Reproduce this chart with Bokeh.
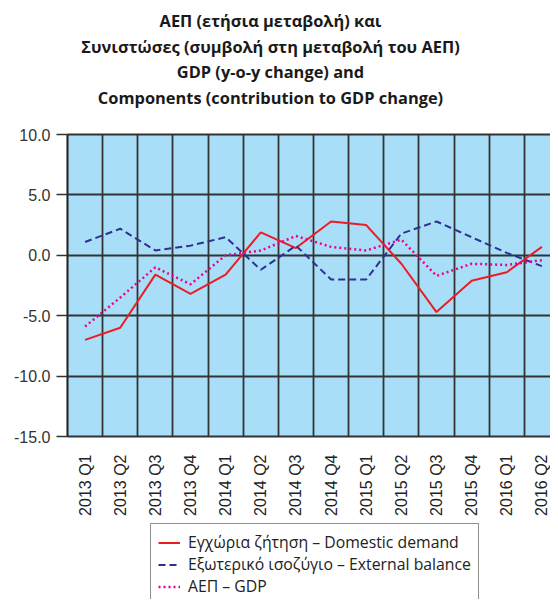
import numpy as np
from bokeh.plotting import figure
from bokeh.models import (Range1d, FixedTicker, NumeralTickFormatter, Legend,
                          LegendItem, Label, BoxAnnotation)
from bokeh.embed import file_html
from bokeh.resources import INLINE

# ---- data ----
quarters = ["2013 Q1", "2013 Q2", "2013 Q3", "2013 Q4",
            "2014 Q1", "2014 Q2", "2014 Q3", "2014 Q4",
            "2015 Q1", "2015 Q2", "2015 Q3", "2015 Q4",
            "2016 Q1", "2016 Q2"]
domestic = [-7.0, -6.0, -1.6, -3.2, -1.6, 1.9, 0.6, 2.8, 2.5, -0.7, -4.7, -2.1, -1.4, 0.7]
external = [1.1, 2.2, 0.4, 0.8, 1.5, -1.2, 0.8, -2.0, -2.0, 1.8, 2.8, 1.5, 0.2, -0.9]
gdp = [-5.9, -3.5, -1.0, -2.4, 0.0, 0.4, 1.6, 0.7, 0.4, 1.3, -1.7, -0.7, -0.8, -0.4]
y_ticks = [-15, -10, -5, 0, 5, 10]
series_labels = ["Εγχώρια ζήτηση – Domestic demand",
                 "Εξωτερικό ισοζύγιο – External balance",
                 "ΑΕΠ – GDP"]
title_lines = ["ΑΕΠ (ετήσια μεταβολή) και",
               "Συνιστώσες (συμβολή στη μεταβολή του ΑΕΠ)",
               "GDP (y-o-y change) and",
               "Components (contribution to GDP change)"]

n = len(quarters)
xc = np.arange(n) + 0.5
ymin, ymax = min(y_ticks), max(y_ticks)

# ---- layout (pixels) ----
W, H = 550, 599
PL, PR = 67.0, 559.0      # plot area left/right
PT, PB = 134.0, 436.0     # plot area top/bottom
sx = (PR - PL) / n
sy = (PB - PT) / (ymax - ymin)
x0 = -PL / sx
x1 = x0 + W / sx
y1 = ymax + PT / sy
y0 = y1 - H / sy

p = figure(width=W, height=H, output_backend="svg", toolbar_location=None,
           x_range=Range1d(x0, x1), y_range=Range1d(y0, y1),
           min_border=0, min_border_left=0, min_border_right=0,
           min_border_top=0, min_border_bottom=0)
p.background_fill_color = "white"
p.border_fill_color = "white"
p.outline_line_color = None

plot_bg = BoxAnnotation(left=0, right=n, bottom=ymin, top=ymax,
                        fill_color="#a9def8", fill_alpha=1, line_color=None,
                        level="image")
p.add_layout(plot_bg)

# grid
p.xgrid.ticker = FixedTicker(ticks=list(range(n + 1)))
p.xgrid.cross_bounds = (ymin, ymax)
p.ygrid.ticker = FixedTicker(ticks=y_ticks)
p.ygrid.cross_bounds = (0, n)
for g in (p.xgrid, p.ygrid):
    g.grid_line_color = "#333333"
    g.grid_line_width = 1.8

# x axis
xa = p.xaxis[0]
xa.fixed_location = ymin
xa.ticker = FixedTicker(ticks=list(xc))
xa.major_label_overrides = {float(x): q for x, q in zip(xc, quarters)}
xa.major_label_orientation = np.pi / 2
xa.major_tick_line_color = None
xa.minor_tick_line_color = None
xa.axis_line_color = None
xa.major_label_standoff = 12
xa.major_label_text_font = "Liberation Sans"
xa.major_label_text_font_size = "16px"
xa.major_label_text_color = "#222222"

# y axis
ya = p.yaxis[0]
ya.fixed_location = 0
ya.bounds = (ymin, ymax)
ya.ticker = FixedTicker(ticks=y_ticks)
ya.formatter = NumeralTickFormatter(format="0.0")
ya.major_tick_out = 11
ya.major_tick_in = 0
ya.major_tick_line_color = "#333333"
ya.major_tick_line_width = 1.5
ya.minor_tick_line_color = None
ya.axis_line_color = "#222222"
ya.axis_line_width = 1.5
ya.major_label_standoff = 6
ya.major_label_text_font = "Liberation Sans"
ya.major_label_text_font_size = "16px"
ya.major_label_text_color = "#333333"

r1 = p.line(xc, domestic, line_color="#ed1c24", line_width=2)
r2 = p.line(xc, external, line_color="#2e3192", line_width=2, line_dash="7 4")
r3 = p.line(xc, gdp, line_color="#ec008c", line_width=2.5, line_dash="2 3")

legend = Legend(items=[LegendItem(label=series_labels[0], renderers=[r1]),
                       LegendItem(label=series_labels[1], renderers=[r2]),
                       LegendItem(label=series_labels[2], renderers=[r3])],
                location=(150, H - 605), orientation="vertical")
legend.label_text_font = "Open Sans"
legend.label_text_font_size = "15.8px"
legend.label_text_color = "#222222"
legend.glyph_width = 22
legend.glyph_height = 19
legend.label_height = 19
legend.label_standoff = 8
legend.spacing = 0
legend.padding = 7
legend.margin = 0
legend.border_line_color = "#222222"
legend.border_line_width = 1
legend.background_fill_color = "white"
legend.background_fill_alpha = 1
p.add_layout(legend, "center")

# title lines (screen units, origin bottom-left of canvas)
title_y = [20, 45.5, 71, 96.5]
for txt, ty in zip(title_lines, title_y):
    lab = Label(x=270, y=H - ty, x_units="screen", y_units="screen",
                text=txt, text_align="center", text_baseline="middle",
                text_font="Open Sans", text_font_style="bold",
                text_font_size="16.4px", text_color="#1a1a1a")
    p.add_layout(lab)

open("out.html", "w").write(file_html(p, INLINE))
